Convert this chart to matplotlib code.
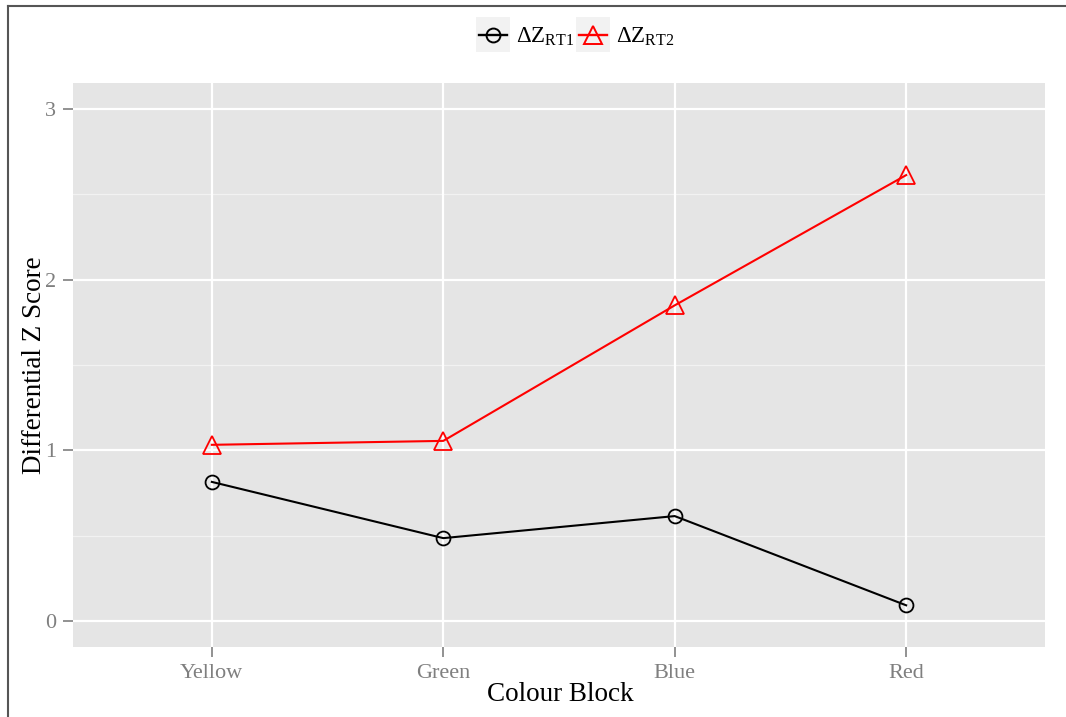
import matplotlib
matplotlib.use("Agg")
import matplotlib.pyplot as plt
from matplotlib.lines import Line2D
from matplotlib.patches import Rectangle

# ============================================================
# DADOS
# ============================================================

BLOCKS = ["Yellow", "Green", "Blue", "Red"]
DZ_RT1 = [0.816, 0.487, 0.616, 0.094]
DZ_RT2 = [1.033, 1.056, 1.849, 2.611]

YTICKS = [0, 1, 2, 3]

SERIES = [
    (DZ_RT1, "black", "o", 10, r"$\Delta\mathrm{Z}_{\mathrm{RT1}}$"),
    (DZ_RT2, "red", "^", 13, r"$\Delta\mathrm{Z}_{\mathrm{RT2}}$"),
]

W, H = 1066, 717
DPI = 100

plt.rcParams["font.family"] = ["Liberation Serif", "DejaVu Serif"]
plt.rcParams["mathtext.fontset"] = "custom"
plt.rcParams["mathtext.rm"] = "Liberation Serif"
plt.rcParams["mathtext.it"] = "Liberation Serif"

fig = plt.figure(figsize=(W / DPI, H / DPI), dpi=DPI)
ax = fig.add_axes([73 / W, 1 - 647 / H, (1045 - 73) / W, (647 - 83) / H])

ax.set_facecolor("#E5E5E5")
for s in ax.spines.values():
    s.set_visible(False)

x = list(range(1, len(BLOCKS) + 1))

# grade
for yv in [0.5, 1.5, 2.5]:
    ax.axhline(yv, color="#F2F2F2", lw=0.9, zorder=0)
for yv in YTICKS:
    ax.axhline(yv, color="white", lw=1.6, zorder=0)
for xv in x:
    ax.axvline(xv, color="white", lw=1.6, zorder=0)

for vals, color, marker, ms, _ in SERIES:
    ax.plot(x, vals, color=color, lw=1.5, marker=marker, markersize=ms,
            markerfacecolor="none", markeredgewidth=1.3, zorder=3)

ax.set_xlim(0.4, 4.6)
ax.set_ylim(-0.15, 3.15)
ax.set_xticks(x)
ax.set_xticklabels(BLOCKS)
ax.set_yticks(YTICKS)
ax.tick_params(colors="#7F7F7F", labelcolor="#7F7F7F", labelsize=16,
               length=7, width=1.2)
ax.tick_params(axis="y", pad=5)
ax.tick_params(axis="x", pad=5)

ax.set_xlabel("Colour Block", fontsize=19.5)
ax.set_ylabel("Differential Z Score", fontsize=19.5)
ax.xaxis.set_label_coords((560 - 73) / 972, -(682 - 647) / 564)
ax.yaxis.set_label_coords((47 - 73) / 972, (647 - 365) / 564)

# legenda manual (com fundo cinza nas chaves, como no ggplot)
x0 = 476
for vals, color, marker, ms, label in SERIES:
    fig.add_artist(Rectangle((x0 / W, 1 - 52 / H), 34 / W, 35 / H,
                             facecolor="#F2F2F2", edgecolor="none",
                             transform=fig.transFigure))
    fig.add_artist(Line2D([(x0 + 3) / W, (x0 + 31) / W], [1 - 35 / H] * 2,
                          color=color, lw=1.7))
    fig.add_artist(Line2D([(x0 + 17) / W], [1 - 35 / H], color=color,
                          marker=marker, markersize=ms, markerfacecolor="none",
                          markeredgewidth=1.4))
    fig.text((x0 + 40) / W, 1 - 37 / H, label, fontsize=16.5, va="center",
             ha="left")
    x0 += 100

# borda (só esquerda e topo)
fig.add_artist(Line2D([8 / W, 8 / W], [0, 1 - 6 / H], color="#555555", lw=1.5))
fig.add_artist(Line2D([8 / W, 1], [1 - 6 / H, 1 - 6 / H], color="#555555", lw=1.5))

fig.savefig("out.png", dpi=DPI)
